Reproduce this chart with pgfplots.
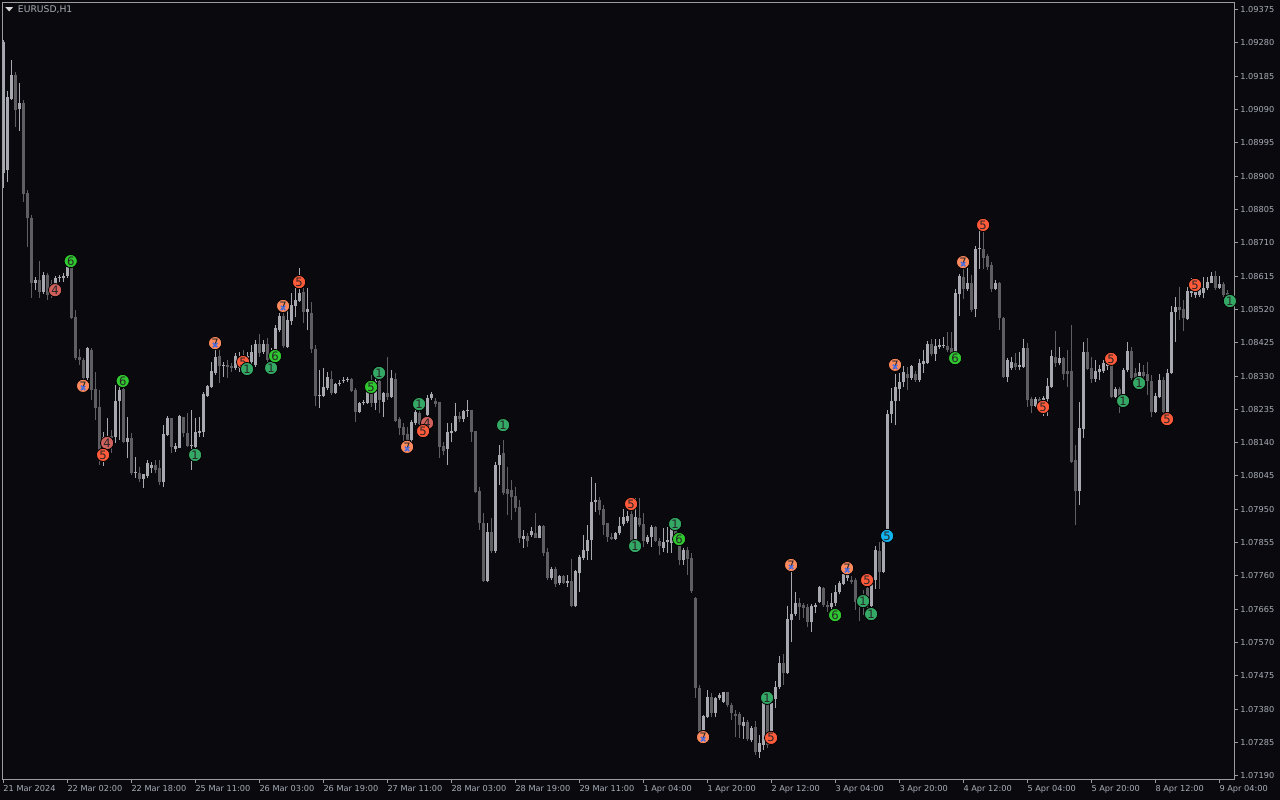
\documentclass[border=0pt]{standalone}
\usepackage{fontspec}
\setmainfont{DejaVu Sans}
\usepackage{pgfplots}
\pgfplotsset{compat=1.18}
\usepackage{pgfplotstable}
\definecolor{bg}{HTML}{0A0A0E}
\definecolor{bull}{HTML}{A8A8B0}
\definecolor{bear}{HTML}{5E5E63}
\definecolor{axgray}{HTML}{9C9C9C}
\definecolor{txt}{HTML}{A8ADB8}
\definecolor{mred}{HTML}{FF5A3A}
\definecolor{mind}{HTML}{D0605C}
\definecolor{mora}{HTML}{FF8A5E}
\definecolor{mgreen}{HTML}{30C830}
\definecolor{msea}{HTML}{34A865}
\definecolor{mblue}{HTML}{12B4F0}
\definecolor{mx}{HTML}{4A6EE0}

\pgfplotstableread{
i o h l c
0 1.08909 1.09289 1.08866 1.09283
1 1.08918 1.09143 1.08883 1.09126
2 1.09120 1.09231 1.09117 1.09189
3 1.09189 1.09197 1.09040 1.09089
4 1.09092 1.09166 1.09029 1.09109
5 1.09109 1.09117 1.08826 1.08849
6 1.08852 1.08861 1.08698 1.08781
7 1.08781 1.08789 1.08553 1.08595
8 1.08595 1.08612 1.08575 1.08604
9 1.08604 1.08658 1.08553 1.08570
10 1.08570 1.08627 1.08564 1.08618
11 1.08618 1.08624 1.08547 1.08561
12 1.08593 1.08604 1.08553 1.08570
13 1.08593 1.08615 1.08575 1.08610
14 1.08610 1.08618 1.08598 1.08612
15 1.08610 1.08624 1.08598 1.08615
16 1.08615 1.08647 1.08610 1.08641
17 1.08647 1.08655 1.08493 1.08496
18 1.08498 1.08518 1.08376 1.08381
19 1.08384 1.08407 1.08362 1.08376
20 1.08376 1.08381 1.08290 1.08325
21 1.08325 1.08413 1.08319 1.08410
22 1.08404 1.08410 1.08262 1.08290
23 1.08293 1.08342 1.08205 1.08239
24 1.08242 1.08290 1.08076 1.08113
25 1.08125 1.08170 1.08073 1.08156
26 1.08148 1.08210 1.08119 1.08159
27 1.08159 1.08176 1.08111 1.08153
28 1.08156 1.08304 1.08139 1.08259
29 1.08259 1.08325 1.08148 1.08290
30 1.08293 1.08302 1.08139 1.08142
31 1.08142 1.08213 1.08096 1.08153
32 1.08153 1.08168 1.08048 1.08053
33 1.08053 1.08099 1.08039 1.08056
34 1.08053 1.08071 1.08028 1.08036
35 1.08036 1.08051 1.08011 1.08051
36 1.08045 1.08091 1.08039 1.08082
37 1.08068 1.08085 1.08053 1.08076
38 1.08076 1.08091 1.08053 1.08062
39 1.08068 1.08091 1.08019 1.08028
40 1.08028 1.08190 1.08014 1.08165
41 1.08162 1.08216 1.08159 1.08210
42 1.08210 1.08210 1.08111 1.08128
43 1.08122 1.08139 1.08113 1.08130
44 1.08125 1.08219 1.08125 1.08216
45 1.08213 1.08213 1.08156 1.08168
46 1.08168 1.08225 1.08128 1.08130
47 1.08130 1.08233 1.08062 1.08133
48 1.08128 1.08210 1.08125 1.08170
49 1.08168 1.08213 1.08156 1.08173
50 1.08170 1.08284 1.08156 1.08279
51 1.08273 1.08304 1.08270 1.08302
52 1.08299 1.08370 1.08296 1.08344
53 1.08339 1.08404 1.08333 1.08384
54 1.08387 1.08404 1.08310 1.08359
55 1.08359 1.08370 1.08327 1.08362
56 1.08362 1.08376 1.08325 1.08356
57 1.08359 1.08367 1.08342 1.08353
58 1.08353 1.08396 1.08347 1.08387
59 1.08353 1.08399 1.08342 1.08381
60 1.08381 1.08404 1.08347 1.08359
61 1.08359 1.08399 1.08333 1.08387
62 1.08370 1.08418 1.08353 1.08399
63 1.08362 1.08433 1.08356 1.08421
64 1.08421 1.08450 1.08384 1.08396
65 1.08399 1.08433 1.08393 1.08421
66 1.08421 1.08439 1.08370 1.08376
67 1.08370 1.08410 1.08353 1.08399
68 1.08399 1.08476 1.08393 1.08467
69 1.08461 1.08510 1.08456 1.08501
70 1.08501 1.08530 1.08410 1.08416
71 1.08413 1.08518 1.08410 1.08490
72 1.08487 1.08567 1.08476 1.08533
73 1.08530 1.08587 1.08498 1.08547
74 1.08544 1.08638 1.08541 1.08567
75 1.08570 1.08581 1.08481 1.08513
76 1.08513 1.08581 1.08461 1.08521
77 1.08510 1.08541 1.08396 1.08407
78 1.08407 1.08418 1.08245 1.08273
79 1.08273 1.08347 1.08239 1.08276
80 1.08273 1.08353 1.08270 1.08299
81 1.08296 1.08342 1.08290 1.08327
82 1.08322 1.08344 1.08276 1.08282
83 1.08282 1.08310 1.08279 1.08307
84 1.08307 1.08319 1.08302 1.08310
85 1.08316 1.08327 1.08310 1.08319
86 1.08319 1.08327 1.08313 1.08322
87 1.08322 1.08325 1.08285 1.08287
88 1.08290 1.08296 1.08199 1.08228
89 1.08228 1.08256 1.08225 1.08253
90 1.08253 1.08262 1.08247 1.08256
91 1.08253 1.08290 1.08250 1.08285
92 1.08285 1.08333 1.08242 1.08253
93 1.08253 1.08322 1.08233 1.08316
94 1.08316 1.08325 1.08225 1.08262
95 1.08256 1.08285 1.08213 1.08282
96 1.08282 1.08384 1.08262 1.08270
97 1.08270 1.08347 1.08267 1.08325
98 1.08322 1.08339 1.08199 1.08202
99 1.08208 1.08213 1.08162 1.08182
100 1.08185 1.08196 1.08142 1.08162
101 1.08165 1.08185 1.08113 1.08142
102 1.08148 1.08205 1.08133 1.08199
103 1.08196 1.08239 1.08190 1.08228
104 1.08225 1.08242 1.08185 1.08193
105 1.08193 1.08210 1.08159 1.08185
106 1.08219 1.08276 1.08213 1.08267
107 1.08267 1.08285 1.08262 1.08279
108 1.08259 1.08267 1.08242 1.08250
109 1.08256 1.08256 1.08096 1.08128
110 1.08130 1.08142 1.08105 1.08116
111 1.08122 1.08196 1.08076 1.08170
112 1.08168 1.08196 1.08142 1.08173
113 1.08173 1.08253 1.08170 1.08216
114 1.08216 1.08228 1.08199 1.08207
115 1.08207 1.08233 1.08199 1.08230
116 1.08230 1.08262 1.08213 1.08231
117 1.08233 1.08233 1.08142 1.08170
118 1.08173 1.08173 1.07996 1.07999
119 1.08002 1.08014 1.07891 1.07911
120 1.07911 1.07939 1.07743 1.07745
121 1.07745 1.07911 1.07743 1.07885
122 1.07885 1.07925 1.07825 1.07831
123 1.07831 1.08085 1.07825 1.08076
124 1.08076 1.08133 1.08019 1.08105
125 1.08111 1.08148 1.07991 1.07996
126 1.08008 1.08071 1.07934 1.07994
127 1.08005 1.08034 1.07919 1.07985
128 1.07988 1.08014 1.07942 1.07954
129 1.07956 1.07976 1.07854 1.07868
130 1.07865 1.07891 1.07840 1.07874
131 1.07874 1.07882 1.07842 1.07859
132 1.07877 1.07899 1.07871 1.07888
133 1.07882 1.07939 1.07868 1.07868
134 1.07868 1.07905 1.07868 1.07902
135 1.07902 1.07905 1.07817 1.07825
136 1.07828 1.07840 1.07748 1.07754
137 1.07754 1.07785 1.07748 1.07780
138 1.07780 1.07785 1.07728 1.07737
139 1.07740 1.07763 1.07734 1.07760
140 1.07760 1.07763 1.07737 1.07740
141 1.07740 1.07763 1.07728 1.07745
142 1.07745 1.07808 1.07671 1.07674
143 1.07674 1.07777 1.07671 1.07774
144 1.07768 1.07820 1.07714 1.07814
145 1.07811 1.07877 1.07805 1.07834
146 1.07831 1.07905 1.07805 1.07862
147 1.07862 1.08042 1.07805 1.07971
148 1.07971 1.08025 1.07942 1.07976
149 1.07976 1.07985 1.07934 1.07948
150 1.07951 1.07962 1.07877 1.07905
151 1.07911 1.07911 1.07857 1.07871
152 1.07871 1.07882 1.07862 1.07865
153 1.07865 1.07885 1.07862 1.07882
154 1.07882 1.07928 1.07877 1.07902
155 1.07908 1.07951 1.07902 1.07928
156 1.07917 1.07945 1.07911 1.07931
157 1.07937 1.07954 1.07857 1.07859
158 1.07859 1.07982 1.07857 1.07928
159 1.07925 1.07982 1.07899 1.07905
160 1.07908 1.07939 1.07842 1.07859
161 1.07857 1.07877 1.07851 1.07871
162 1.07871 1.07905 1.07842 1.07899
163 1.07899 1.07902 1.07857 1.07859
164 1.07859 1.07868 1.07820 1.07845
165 1.07840 1.07897 1.07828 1.07857
166 1.07857 1.07899 1.07825 1.07862
167 1.07854 1.07899 1.07825 1.07894
168 1.07891 1.07897 1.07848 1.07862
169 1.07862 1.07868 1.07791 1.07805
170 1.07805 1.07840 1.07791 1.07834
171 1.07834 1.07842 1.07763 1.07808
172 1.07811 1.07825 1.07711 1.07717
173 1.07697 1.07700 1.07412 1.07440
174 1.07440 1.07449 1.07312 1.07315
175 1.07320 1.07363 1.07286 1.07360
176 1.07357 1.07434 1.07355 1.07414
177 1.07414 1.07426 1.07357 1.07369
178 1.07369 1.07414 1.07357 1.07412
179 1.07412 1.07426 1.07406 1.07420
180 1.07400 1.07429 1.07397 1.07429
181 1.07429 1.07429 1.07386 1.07392
182 1.07392 1.07397 1.07349 1.07369
183 1.07366 1.07377 1.07300 1.07360
184 1.07366 1.07372 1.07298 1.07335
185 1.07332 1.07357 1.07295 1.07343
186 1.07343 1.07349 1.07289 1.07295
187 1.07292 1.07332 1.07286 1.07326
188 1.07329 1.07346 1.07249 1.07258
189 1.07258 1.07306 1.07241 1.07283
190 1.07278 1.07414 1.07263 1.07406
191 1.07400 1.07406 1.07269 1.07278
192 1.07300 1.07406 1.07292 1.07397
193 1.07409 1.07460 1.07383 1.07443
194 1.07443 1.07531 1.07437 1.07511
195 1.07511 1.07537 1.07449 1.07483
196 1.07483 1.07674 1.07480 1.07637
197 1.07634 1.07777 1.07571 1.07651
198 1.07651 1.07714 1.07646 1.07683
199 1.07683 1.07697 1.07634 1.07671
200 1.07677 1.07683 1.07640 1.07668
201 1.07671 1.07680 1.07614 1.07628
202 1.07628 1.07680 1.07600 1.07674
203 1.07671 1.07683 1.07654 1.07677
204 1.07686 1.07731 1.07683 1.07728
205 1.07725 1.07728 1.07671 1.07677
206 1.07677 1.07688 1.07657 1.07671
207 1.07671 1.07711 1.07657 1.07683
208 1.07683 1.07734 1.07674 1.07714
209 1.07714 1.07745 1.07708 1.07740
210 1.07737 1.07785 1.07734 1.07765
211 1.07754 1.07777 1.07745 1.07765
212 1.07748 1.07760 1.07737 1.07743
213 1.07748 1.07754 1.07663 1.07686
214 1.07700 1.07700 1.07631 1.07677
215 1.07700 1.07720 1.07648 1.07671
216 1.07725 1.07748 1.07654 1.07674
217 1.07674 1.07754 1.07668 1.07748
218 1.07748 1.07845 1.07723 1.07834
219 1.07831 1.07857 1.07723 1.07771
220 1.07771 1.07879 1.07768 1.07871
221 1.07874 1.08233 1.07862 1.08222
222 1.08222 1.08296 1.08196 1.08259
223 1.08259 1.08336 1.08190 1.08299
224 1.08293 1.08339 1.08259 1.08313
225 1.08313 1.08359 1.08299 1.08342
226 1.08336 1.08356 1.08290 1.08325
227 1.08325 1.08362 1.08319 1.08359
228 1.08336 1.08344 1.08313 1.08319
229 1.08319 1.08379 1.08313 1.08367
230 1.08364 1.08404 1.08339 1.08373
231 1.08367 1.08430 1.08364 1.08421
232 1.08421 1.08436 1.08387 1.08393
233 1.08393 1.08436 1.08373 1.08416
234 1.08413 1.08436 1.08407 1.08419
235 1.08416 1.08441 1.08410 1.08419
236 1.08416 1.08456 1.08399 1.08404
237 1.08410 1.08456 1.08381 1.08384
238 1.08396 1.08578 1.08390 1.08567
239 1.08564 1.08621 1.08501 1.08615
240 1.08612 1.08650 1.08550 1.08578
241 1.08578 1.08638 1.08573 1.08595
242 1.08595 1.08618 1.08513 1.08518
243 1.08521 1.08701 1.08498 1.08692
244 1.08692 1.08764 1.08635 1.08695
245 1.08692 1.08744 1.08635 1.08667
246 1.08672 1.08678 1.08632 1.08641
247 1.08647 1.08655 1.08570 1.08578
248 1.08578 1.08604 1.08575 1.08595
249 1.08595 1.08598 1.08461 1.08496
250 1.08496 1.08498 1.08325 1.08327
251 1.08327 1.08381 1.08313 1.08376
252 1.08353 1.08384 1.08347 1.08370
253 1.08367 1.08396 1.08347 1.08356
254 1.08356 1.08399 1.08347 1.08362
255 1.08356 1.08436 1.08353 1.08410
256 1.08410 1.08424 1.08242 1.08262
257 1.08265 1.08270 1.08225 1.08245
258 1.08245 1.08270 1.08242 1.08265
259 1.08265 1.08270 1.08239 1.08256
260 1.08256 1.08273 1.08216 1.08267
261 1.08265 1.08325 1.08216 1.08302
262 1.08299 1.08404 1.08296 1.08387
263 1.08384 1.08459 1.08356 1.08367
264 1.08367 1.08413 1.08362 1.08381
265 1.08381 1.08384 1.08319 1.08336
266 1.08344 1.08404 1.08299 1.08336
267 1.08344 1.08476 1.08082 1.08085
268 1.08091 1.08133 1.07905 1.08002
269 1.08002 1.08256 1.07962 1.08182
270 1.08179 1.08427 1.08153 1.08399
271 1.08399 1.08439 1.08347 1.08350
272 1.08353 1.08384 1.08310 1.08322
273 1.08322 1.08376 1.08313 1.08344
274 1.08342 1.08362 1.08319 1.08350
275 1.08344 1.08376 1.08339 1.08367
276 1.08359 1.08390 1.08347 1.08370
277 1.08362 1.08367 1.08267 1.08270
278 1.08270 1.08299 1.08267 1.08293
279 1.08293 1.08299 1.08225 1.08270
280 1.08270 1.08353 1.08267 1.08347
281 1.08347 1.08427 1.08342 1.08401
282 1.08401 1.08413 1.08319 1.08325
283 1.08339 1.08353 1.08313 1.08325
284 1.08327 1.08367 1.08325 1.08342
285 1.08342 1.08362 1.08319 1.08330
286 1.08336 1.08370 1.08276 1.08316
287 1.08316 1.08333 1.08213 1.08228
288 1.08228 1.08282 1.08225 1.08273
289 1.08270 1.08336 1.08267 1.08319
290 1.08319 1.08327 1.08222 1.08228
291 1.08228 1.08350 1.08225 1.08339
292 1.08339 1.08530 1.08336 1.08513
293 1.08513 1.08556 1.08427 1.08527
294 1.08527 1.08584 1.08490 1.08518
295 1.08521 1.08547 1.08459 1.08496
296 1.08493 1.08584 1.08490 1.08573
297 1.08567 1.08610 1.08556 1.08573
298 1.08561 1.08595 1.08553 1.08570
299 1.08561 1.08598 1.08556 1.08584
300 1.08567 1.08612 1.08553 1.08581
301 1.08581 1.08612 1.08575 1.08598
302 1.08595 1.08627 1.08595 1.08615
303 1.08615 1.08630 1.08575 1.08581
304 1.08581 1.08615 1.08578 1.08593
305 1.08593 1.08598 1.08556 1.08561
306 1.08567 1.08575 1.08547 1.08556
}\candles

\pgfplotstableread{
i y lab
24.9 1.08105 5
59.9 1.08370 5
73.9 1.08598 5
104.9 1.08173 5
156.9 1.07965 5
191.9 1.07298 5
215.9 1.07748 5
244.9 1.08761 5
259.9 1.08242 5
276.9 1.08379 5
290.9 1.08207 5
297.9 1.08590 5
}\redfive

\pgfplotstableread{
i y lab
12.9 1.08575 4
25.9 1.08139 4
105.9 1.08196 4
}\indfour

\pgfplotstableread{
i y lab
19.9 1.08302 7
52.9 1.08424 7
69.9 1.08530 7
100.9 1.08128 7
174.9 1.07300 7
196.9 1.07791 7
210.9 1.07782 7
222.9 1.08362 7
239.9 1.08655 7
}\orseven

\pgfplotstableread{
i y lab
16.8 1.08658 6
29.8 1.08316 6
67.9 1.08387 6
168.9 1.07865 6
207.9 1.07648 6
237.9 1.08381 6
91.9 1.08299 5
}\greensix

\pgfplotstableread{
i y lab
47.9 1.08105 1
60.9 1.08350 1
66.9 1.08353 1
93.9 1.08339 1
103.9 1.08250 1
124.9 1.08190 1
157.9 1.07845 1
167.9 1.07908 1
190.9 1.07412 1
214.9 1.07688 1
216.9 1.07651 1
279.9 1.08259 1
283.9 1.08310 1
306.6 1.08544 1
}\seaone

\pgfplotstableread{
i y lab
220.9 1.07874 5
}\bluefive

\begin{document}
\begin{tikzpicture}
\fill[bg] (0,0) rectangle (640bp,400bp);
\useasboundingbox (0,0) rectangle (640bp,400bp);
\begin{axis}[
  at={(1.25bp,10.5bp)}, anchor=south west,
  scale only axis, width=615.75bp, height=388.35bp,
  xmin=-0.25, xmax=307.625, ymin=1.071806, ymax=1.093961,
  axis line style={draw=axgray, line width=0.5bp},
  tick align=outside, major tick length=2bp,
  xtick pos=left, ytick pos=right, yticklabel pos=right,
  tick style={draw=axgray, line width=0.5bp},
  xtick={0,16,...,304},
  xticklabels={21 Mar 2024,22 Mar 02:00,22 Mar 18:00,25 Mar 11:00,26 Mar 03:00,26 Mar 19:00,27 Mar 11:00,28 Mar 03:00,28 Mar 19:00,29 Mar 11:00,1 Apr 04:00,1 Apr 20:00,2 Apr 12:00,3 Apr 04:00,3 Apr 20:00,4 Apr 12:00,5 Apr 04:00,5 Apr 20:00,8 Apr 12:00,9 Apr 04:00},
  ytick={1.07190,1.07285,1.07380,1.07475,1.07570,1.07665,1.07760,1.07855,1.07950,1.08045,1.08140,1.08235,1.08330,1.08425,1.08520,1.08615,1.08710,1.08805,1.08900,1.08995,1.09090,1.09185,1.09280,1.09375},
  yticklabels={1.07190,1.07285,1.07380,1.07475,1.07570,1.07665,1.07760,1.07855,1.07950,1.08045,1.08140,1.08235,1.08330,1.08425,1.08520,1.08615,1.08710,1.08805,1.08900,1.08995,1.09090,1.09185,1.09280,1.09375},
  ticklabel style={font=\fontsize{4.1bp}{5bp}\selectfont, text=txt},
  xticklabel style={anchor=north west, inner sep=0pt, xshift=-0.2bp, yshift=-0.8bp},
  yticklabel style={anchor=west, inner sep=0pt, xshift=1bp},
  every node near coord/.append style={anchor=center, inner sep=0pt, font=\fontsize{5.8bp}{5.8bp}\selectfont, text=black!85},
]
% wicks
\addplot[draw=none, mark=none, forget plot,
  restrict expr to domain={\thisrow{c}-\thisrow{o}}{-0.000001:1},
  error bars/.cd, y dir=plus, y explicit, error mark=none,
  error bar style={draw=bull, line width=0.5bp, solid}]
  table[x=i, y=l, y error expr=\thisrow{h}-\thisrow{l}] {\candles};
\addplot[draw=none, mark=none, forget plot,
  restrict expr to domain={\thisrow{o}-\thisrow{c}}{0.000001:1},
  error bars/.cd, y dir=plus, y explicit, error mark=none,
  error bar style={draw=bear, line width=0.5bp, solid}]
  table[x=i, y=l, y error expr=\thisrow{h}-\thisrow{l}] {\candles};
% bodies
\addplot[draw=none, mark=none, forget plot,
  restrict expr to domain={\thisrow{c}-\thisrow{o}}{-0.000001:1},
  error bars/.cd, y dir=plus, y explicit, error mark=none,
  error bar style={draw=bull, line width=1.4bp, solid}]
  table[x=i, y=o, y error expr={max(\thisrow{c}-\thisrow{o},0.00003)}] {\candles};
\addplot[draw=none, mark=none, forget plot,
  restrict expr to domain={\thisrow{o}-\thisrow{c}}{0.000001:1},
  error bars/.cd, y dir=plus, y explicit, error mark=none,
  error bar style={draw=bear, line width=1.4bp, solid}]
  table[x=i, y=c, y error expr={max(\thisrow{o}-\thisrow{c},0.00003)}] {\candles};
% markers
\addplot[only marks, mark=*, mark size=3.3bp, mark options={draw=none, fill=mind},
  nodes near coords, point meta=explicit symbolic] table[x=i, y=y, meta=lab] {\indfour};
\addplot[only marks, mark=*, mark size=3.3bp, mark options={draw=none, fill=mred},
  nodes near coords, point meta=explicit symbolic] table[x=i, y=y, meta=lab] {\redfive};
\addplot[only marks, mark=*, mark size=3.3bp, mark options={draw=none, fill=msea},
  nodes near coords, point meta=explicit symbolic] table[x=i, y=y, meta=lab] {\seaone};
\addplot[only marks, mark=*, mark size=3.3bp, mark options={draw=none, fill=mgreen},
  nodes near coords, point meta=explicit symbolic] table[x=i, y=y, meta=lab] {\greensix};
\addplot[only marks, mark=*, mark size=3.3bp, mark options={draw=none, fill=mora},
  nodes near coords, point meta=explicit symbolic] table[x=i, y=y, meta=lab] {\orseven};
\addplot[only marks, mark=x, mark size=1.5bp, mark options={draw=mx, line width=0.75bp, yshift=-1bp}]
  table[x=i, y=y] {\orseven};
\addplot[only marks, mark=*, mark size=3.3bp, mark options={draw=none, fill=mblue},
  nodes near coords, point meta=explicit symbolic] table[x=i, y=y, meta=lab] {\bluefive};
\end{axis}
\fill[black!15!white] (2.7bp,396.4bp) -- (6.5bp,396.4bp) -- (4.6bp,394.3bp) -- cycle;
\node[anchor=west, inner sep=0pt, text=txt, font=\fontsize{4.6bp}{5bp}\selectfont] at (8.8bp,395.2bp) {EURUSD,H1};
\end{tikzpicture}
\end{document}
